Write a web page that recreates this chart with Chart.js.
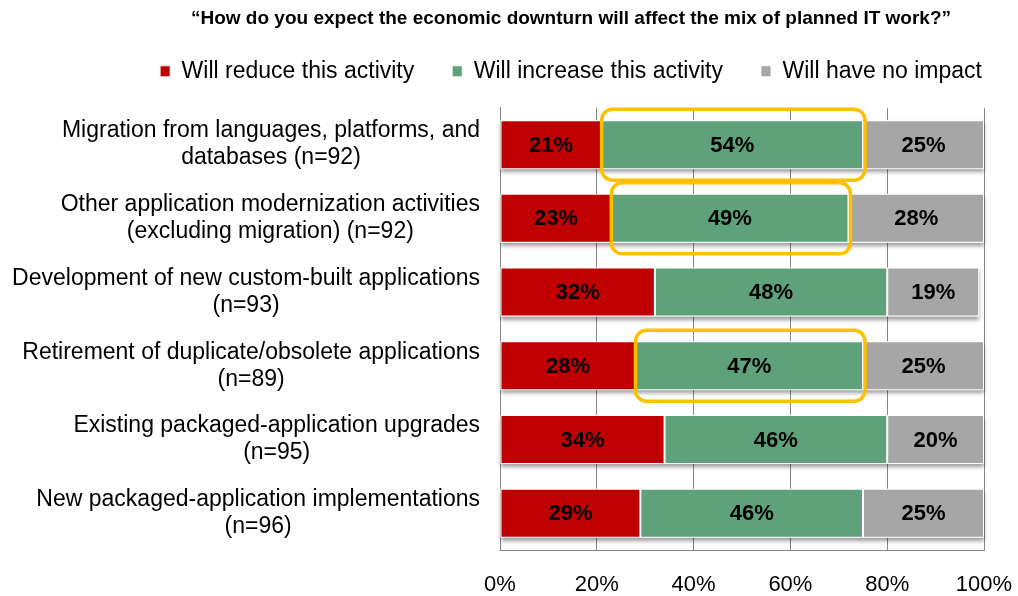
<!DOCTYPE html>
<html>
<head>
<meta charset="utf-8">
<title>Economic downturn and the mix of planned IT work</title>
<script src="https://cdn.jsdelivr.net/npm/chart.js@4.4.1/dist/chart.umd.min.js"></script>
<style>
  html, body { margin: 0; padding: 0; background: #ffffff; }
  #wrap { width: 1018px; height: 596px; }
  canvas { display: block; }
</style>
</head>
<body>
<div id="wrap"><canvas id="chart" width="1018" height="596"></canvas></div>
<script>
// Survey activities (each label split into its printed lines)
const categories = [
  ["Migration from languages, platforms, and", "databases (n=92)"],
  ["Other application modernization activities", "(excluding migration) (n=92)"],
  ["Development of new custom-built applications", "(n=93)"],
  ["Retirement of duplicate/obsolete applications", "(n=89)"],
  ["Existing packaged-application upgrades", "(n=95)"],
  ["New packaged-application implementations", "(n=96)"]
];

// Share of respondents per answer, in percent
const reduceShare   = [21, 23, 32, 28, 34, 29];
const increaseShare = [54, 49, 48, 47, 46, 46];
const noImpactShare = [25, 28, 19, 25, 20, 25];

const seriesNames = ["Will reduce this activity", "Will increase this activity", "Will have no impact"];
const seriesColors = ["#C00000", "#5EA17B", "#A6A6A6"];

// Percent axis
const axisMin = 0;
const axisMax = 100;
const axisStep = 20;

// Activities whose "increase" share is called out with a frame
const highlightedRows = [0, 1, 3];

const titleText = "\u201CHow do you expect the economic downturn will affect the mix of planned IT work?\u201D";

const FONT = "'Liberation Sans', Arial, Helvetica, sans-serif";

// Soft drop shadow under every stacked bar
const barShadow = {
  id: 'barShadow',
  beforeDatasetsDraw(chart) {
    const ctx = chart.ctx;
    const first = chart.getDatasetMeta(0).data;
    const last = chart.getDatasetMeta(chart.data.datasets.length - 1).data;
    ctx.save();
    ctx.shadowColor = 'rgba(0,0,0,0.38)';
    ctx.shadowBlur = 4;
    ctx.shadowOffsetY = 3;
    ctx.fillStyle = '#ffffff';
    first.forEach((bar, i) => {
      const a = bar.getProps(['base', 'y', 'height'], true);
      const b = last[i].getProps(['x'], true);
      ctx.fillRect(a.base, a.y - a.height / 2, b.x - a.base, a.height);
    });
    ctx.restore();
  }
};

// Percentage printed in the middle of each segment
const segmentLabels = {
  id: 'segmentLabels',
  afterDatasetsDraw(chart) {
    const ctx = chart.ctx;
    ctx.save();
    ctx.font = "bold 22px " + FONT;
    ctx.fillStyle = '#000000';
    ctx.textAlign = 'center';
    ctx.textBaseline = 'middle';
    chart.data.datasets.forEach((ds, d) => {
      chart.getDatasetMeta(d).data.forEach((bar, i) => {
        const p = bar.getProps(['x', 'base', 'y'], true);
        ctx.fillText(ds.data[i] + '%', (p.x + p.base) / 2, p.y + 1);
      });
    });
    ctx.restore();
  }
};

// Rounded gold frame around the highlighted "increase" segments
const increaseFrames = {
  id: 'increaseFrames',
  afterDatasetsDraw(chart) {
    const ctx = chart.ctx;
    const meta = chart.getDatasetMeta(1);
    ctx.save();
    ctx.strokeStyle = '#FFC000';
    ctx.lineWidth = 3.5;
    highlightedRows.forEach(i => {
      const p = meta.data[i].getProps(['x', 'base', 'y', 'height'], true);
      const left = p.base;
      const right = p.x + 2;
      const top = p.y - p.height / 2 - 11;
      const h = p.height + 22;
      ctx.beginPath();
      ctx.roundRect(left, top, right - left, h, 11);
      ctx.stroke();
    });
    ctx.restore();
  }
};

// Category captions: block right-aligned to the plot, lines centred in the block
const categoryCaptions = {
  id: 'categoryCaptions',
  afterDraw(chart) {
    const ctx = chart.ctx;
    const yScale = chart.scales.y;
    const right = chart.chartArea.left - 20;
    const lineH = 27;
    ctx.save();
    ctx.font = "23px " + FONT;
    ctx.fillStyle = '#000000';
    ctx.textAlign = 'center';
    ctx.textBaseline = 'middle';
    chart.data.labels.forEach((lines, i) => {
      const y = yScale.getPixelForTick(i);
      const w = Math.max(...lines.map(t => ctx.measureText(t).width));
      const cx = right - w / 2;
      lines.forEach((t, j) => {
        ctx.fillText(t, cx, y + (j - (lines.length - 1) / 2) * lineH);
      });
    });
    ctx.restore();
  }
};

const datasets = [reduceShare, increaseShare, noImpactShare].map((values, k) => ({
  label: seriesNames[k],
  data: values,
  backgroundColor: seriesColors[k],
  borderColor: 'rgba(255,255,255,0.85)',
  borderWidth: 1,
  borderSkipped: false,
  barPercentage: 0.665,
  categoryPercentage: 1
}));

new Chart(document.getElementById('chart'), {
  type: 'bar',
  data: { labels: categories, datasets },
  options: {
    indexAxis: 'y',
    responsive: false,
    animation: false,
    devicePixelRatio: 1,
    layout: { padding: { left: 116, right: -8, top: 0, bottom: 0 } },
    scales: {
      x: {
        stacked: true,
        min: axisMin,
        max: axisMax,
        ticks: {
          stepSize: axisStep,
          callback: v => v + '%',
          font: { family: FONT, size: 22, lineHeight: 1 },
          color: '#000000',
          padding: 24,
          maxRotation: 0,
          autoSkip: false
        },
        grid: { color: '#868686', lineWidth: 1, drawTicks: false },
        border: { color: '#868686', width: 1 },
        afterFit(scale) {
          scale.paddingLeft = 0;
          scale.paddingRight = 34;
          scale.height = 46;
        }
      },
      y: {
        stacked: true,
        ticks: { display: false },
        grid: { display: false, drawTicks: false },
        border: { display: true, color: '#868686', width: 1 },
        afterFit(scale) {
          scale.width = 384;
          scale.paddingTop = 0;
          scale.paddingBottom = 0;
        }
      }
    },
    plugins: {
      title: {
        display: true,
        text: titleText,
        color: '#000000',
        font: { family: FONT, size: 19, weight: 'bold', lineHeight: 1.2 },
        padding: { top: 7, bottom: -8 }
      },
      legend: {
        display: true,
        position: 'top',
        align: 'center',
        labels: {
          color: '#000000',
          boxWidth: 10,
          boxHeight: 11,
          padding: 38,
          font: { family: FONT, size: 23 }
        }
      },
      subtitle: {
        display: true,
        text: '',
        weight: 500,
        font: { size: 1, lineHeight: 1 },
        padding: { top: 14, bottom: 0 }
      },
      tooltip: { enabled: false }
    }
  },
  plugins: [barShadow, segmentLabels, increaseFrames, categoryCaptions]
});
</script>
</body>
</html>
